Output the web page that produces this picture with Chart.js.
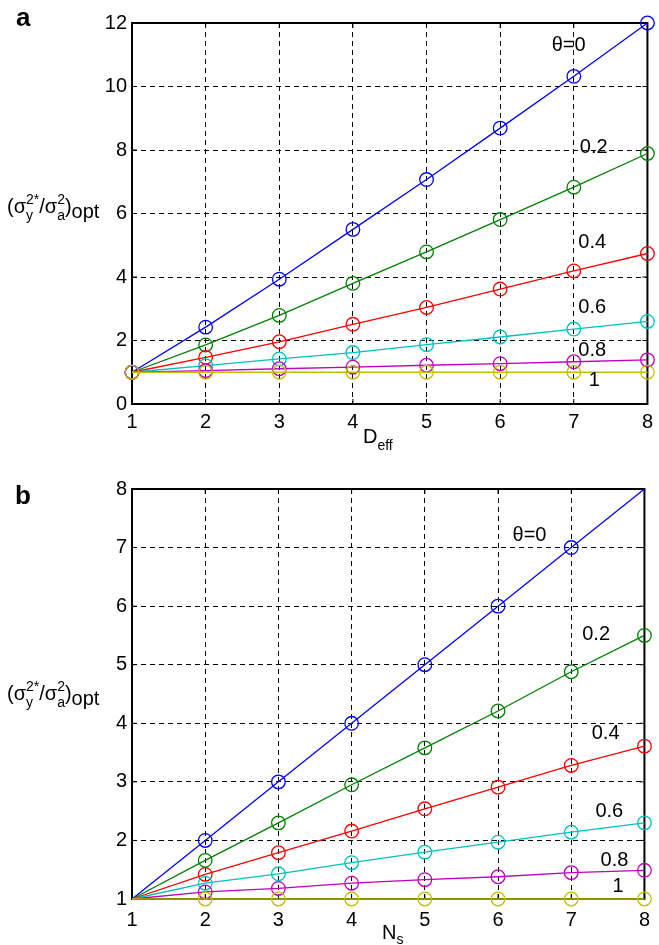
<!DOCTYPE html>
<html>
<head>
<meta charset="utf-8">
<script src="https://cdn.jsdelivr.net/npm/chart.js@4/dist/chart.umd.min.js"></script>
<style>
  html, body { margin: 0; padding: 0; background: #fff; }
  .panel { position: absolute; left: 0; width: 659px; }
  #panel-a { top: 0; height: 470px; }
  #panel-b { top: 470px; height: 475px; }
</style>
</head>
<body>
<div class="panel" id="panel-a"><canvas id="chart-a"></canvas></div>
<div class="panel" id="panel-b"><canvas id="chart-b"></canvas></div>
<script>
'use strict';

// x positions shared by both panels
var xValues = [1, 2, 3, 4, 5, 6, 7, 8];
var thetaLabels = ['θ=0', '0.2', '0.4', '0.6', '0.8', '1'];
var seriesColors = ['#0000ff', '#008000', '#ff0000', '#00bfbf', '#bf00bf', '#bfbf00'];

// panel a: optimum ratio vs D_eff
var deffTheta0 = [1, 2.42, 3.93, 5.5, 7.07, 8.69, 10.32, 12];
var deffTheta02 = [1, 1.86, 2.79, 3.8, 4.79, 5.81, 6.83, 7.89];
var deffTheta04 = [1, 1.47, 1.96, 2.51, 3.04, 3.62, 4.19, 4.74];
var deffTheta06 = [1, 1.21, 1.42, 1.62, 1.87, 2.11, 2.36, 2.6];
var deffTheta08 = [1, 1.05, 1.11, 1.16, 1.22, 1.27, 1.33, 1.39];
var deffTheta1 = [1, 1, 1, 1, 1, 1, 1, 1];
var yTicksA = [0, 2, 4, 6, 8, 10, 12];

// panel b: optimum ratio vs N_s
var nsTheta0 = [1, 2, 3, 4, 5, 6, 7, 8];
var nsTheta02 = [1, 1.66, 2.3, 2.95, 3.58, 4.21, 4.88, 5.5];
var nsTheta04 = [1, 1.42, 1.79, 2.16, 2.54, 2.91, 3.28, 3.61];
var nsTheta06 = [1, 1.27, 1.43, 1.62, 1.8, 1.97, 2.14, 2.3];
var nsTheta08 = [1, 1.12, 1.18, 1.27, 1.33, 1.38, 1.45, 1.49];
var nsTheta1 = [1, 1, 1, 1, 1, 1, 1, 1];
var yTicksB = [1, 2, 3, 4, 5, 6, 7, 8];

var FONT = "'Liberation Sans', Arial, Helvetica, sans-serif";

function toPoints(ys) {
  return ys.map(function (y, i) { return { x: xValues[i], y: y }; });
}

function buildDatasets(seriesList, radiusFn) {
  return seriesList.map(function (ys, i) {
    return {
      label: thetaLabels[i],
      data: toPoints(ys),
      borderColor: seriesColors[i],
      borderWidth: 1.3,
      pointStyle: 'circle',
      pointRadius: radiusFn,
      pointBorderWidth: 1.3,
      pointBorderColor: seriesColors[i],
      pointBackgroundColor: 'rgba(0,0,0,0)',
      tension: 0,
      clip: false,
      order: seriesList.length - i   // later series drawn on top
    };
  });
}

// draws a run of text pieces; a piece with "stack" draws sup and sub at one x
function drawRich(ctx, x, y, pieces) {
  ctx.save();
  ctx.fillStyle = '#000';
  ctx.textAlign = 'left';
  ctx.textBaseline = 'alphabetic';
  pieces.forEach(function (p) {
    if (p.stack) {
      var w = 0;
      p.stack.forEach(function (s) {
        ctx.font = s.size + 'px ' + FONT;
        ctx.fillText(s.t, x, y + s.dy);
        w = Math.max(w, ctx.measureText(s.t).width);
      });
      x += w;
    } else {
      ctx.font = (p.bold ? 'bold ' : '') + p.size + 'px ' + FONT;
      ctx.fillText(p.t, x, y + (p.dy || 0));
      x += ctx.measureText(p.t).width;
    }
  });
  ctx.restore();
}

var yTitlePieces = [
  { t: '(σ', size: 20 },
  { stack: [{ t: '2*', size: 14, dy: -9 }, { t: 'y', size: 14, dy: 7 }] },
  { t: '/σ', size: 20 },
  { stack: [{ t: '2', size: 14, dy: -9 }, { t: 'a', size: 14, dy: 7 }] },
  { t: ')', size: 20 },
  { t: 'opt', size: 20, dy: 5 }
];

function overlayPlugin(cfg) {
  return {
    id: 'overlay',
    beforeDatasetsDraw: function (chart) {
      var ctx = chart.ctx, a = chart.chartArea;
      var xs = chart.scales.x, ys = chart.scales.y;
      ctx.save();
      ctx.strokeStyle = '#000';
      ctx.lineWidth = 1;
      ctx.setLineDash([]);
      ctx.beginPath();
      xs.ticks.forEach(function (t) {
        var px = xs.getPixelForValue(t.value);
        ctx.moveTo(px, a.bottom); ctx.lineTo(px, a.bottom - 5);
        ctx.moveTo(px, a.top); ctx.lineTo(px, a.top + 5);
      });
      ys.ticks.forEach(function (t) {
        var py = ys.getPixelForValue(t.value);
        ctx.moveTo(a.left, py); ctx.lineTo(a.left + 5, py);
        ctx.moveTo(a.right, py); ctx.lineTo(a.right - 5, py);
      });
      ctx.stroke();
      ctx.lineWidth = 2;
      ctx.strokeRect(a.left, a.top, a.right - a.left, a.bottom - a.top);
      ctx.restore();
    },
    afterDatasetsDraw: function (chart) {
      var ctx = chart.ctx;
      var xs = chart.scales.x, ys = chart.scales.y;
      ctx.save();
      ctx.fillStyle = '#000';
      ctx.font = '20px ' + FONT;
      ctx.textAlign = 'center';
      ctx.textBaseline = 'middle';
      cfg.labelAt.forEach(function (p, i) {
        ctx.fillText(thetaLabels[i], xs.getPixelForValue(p[0]), ys.getPixelForValue(p[1]));
      });
      ctx.restore();
      drawRich(ctx, cfg.letter[1], cfg.letter[2], [{ t: cfg.letter[0], size: 26, bold: true }]);
      drawRich(ctx, 7, cfg.yTitleBase, yTitlePieces);
      drawRich(ctx, cfg.xTitle[0], cfg.xTitle[1], cfg.xTitle[2]);
    }
  };
}

function makeChart(canvasId, series, yMin, yMax, yStep, radiusFn, layout, overlayCfg) {
  return new Chart(document.getElementById(canvasId), {
    type: 'line',
    data: { datasets: buildDatasets(series, radiusFn) },
    options: {
      responsive: true,
      maintainAspectRatio: false,
      animation: false,
      events: [],
      layout: { padding: { top: layout.top, right: layout.right, left: 0, bottom: 0 } },
      plugins: { legend: { display: false }, tooltip: { enabled: false } },
      scales: {
        x: {
          type: 'linear', min: 1, max: 8,
          ticks: { stepSize: 1, color: '#000', padding: layout.xPad, font: { family: FONT, size: 20 } },
          grid: { color: '#000', lineWidth: 1, drawTicks: false },
          border: { display: false, dash: [5, 4] },
          afterFit: function (s) { s.height = layout.xHeight; }
        },
        y: {
          type: 'linear', min: yMin, max: yMax,
          ticks: { stepSize: yStep, color: '#000', padding: 5, font: { family: FONT, size: 20 } },
          grid: { color: '#000', lineWidth: 1, drawTicks: false },
          border: { display: false, dash: [5, 4] },
          afterFit: function (s) { s.width = 132; }
        }
      }
    },
    plugins: [overlayPlugin(overlayCfg)]
  });
}

makeChart('chart-a',
  [deffTheta0, deffTheta02, deffTheta04, deffTheta06, deffTheta08, deffTheta1],
  yTicksA[0], yTicksA[yTicksA.length - 1], 2,
  6.8,
  { top: 23, right: 9, xHeight: 66, xPad: 6 },
  {
    labelAt: [[6.93, 11.3], [7.27, 8.09], [7.25, 5.1], [7.25, 3.05], [7.25, 1.67], [7.28, 0.75]],
    letter: ['a', 16, 26],
    yTitleBase: 213,
    xTitle: [363, 443, [{ t: 'D', size: 20 }, { t: 'eff', size: 14, dy: 7 }]]
  });

// panel b: no markers at x=1, and the θ=0 line has none at x=8
makeChart('chart-b',
  [nsTheta0, nsTheta02, nsTheta04, nsTheta06, nsTheta08, nsTheta1],
  yTicksB[0], yTicksB[yTicksB.length - 1], 1,
  function (c) { return c.dataIndex === 0 || (c.datasetIndex === 0 && c.dataIndex === 7) ? 0 : 6.8; },
  { top: 19, right: 7, xHeight: 46, xPad: 9 },
  {
    labelAt: [[6.43, 7.21], [7.34, 5.51], [7.47, 3.83], [7.52, 2.5], [7.59, 1.65], [7.64, 1.21]],
    letter: ['b', 15, 34],
    yTitleBase: 230,
    xTitle: [382, 469, [{ t: 'N', size: 20 }, { t: 's', size: 14, dy: 5 }]]
  });
</script>
</body>
</html>
